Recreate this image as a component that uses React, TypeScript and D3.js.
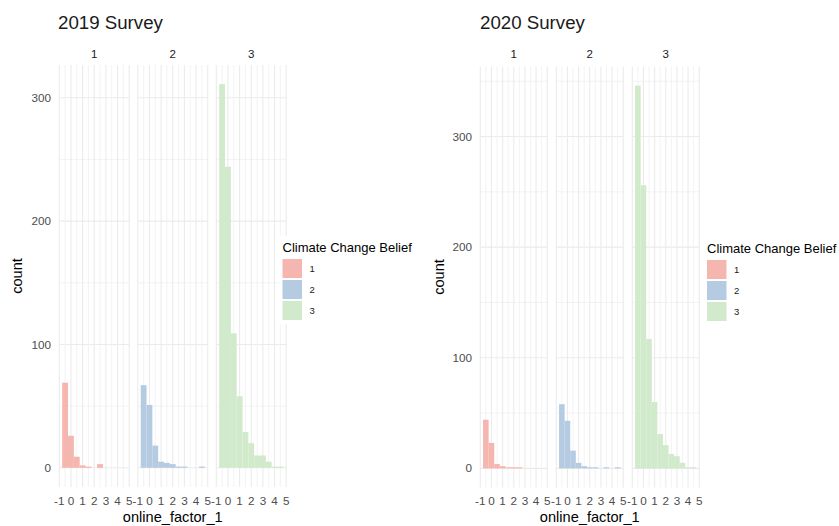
import React from 'react';
import * as d3 from 'd3';

// histogram bins (binwidth 0.5), counts
const binCenters = [-0.5, 0, 0.5, 1, 1.5, 2, 2.5, 3, 3.5, 4, 4.5];
const binWidth = 0.5;
const beliefs = ['1', '2', '3'];

const counts2019Belief1 = [69, 26, 9, 2, 1, 0, 3, 0, 0, 0, 0];
const counts2019Belief2 = [67, 51, 18, 5, 4, 3, 1, 1, 0, 0, 1];
const counts2019Belief3 = [311, 244, 109, 58, 29, 20, 10, 10, 5, 1, 1];

const counts2020Belief1 = [44, 23, 4, 2, 1, 1, 1, 0, 0, 0, 0];
const counts2020Belief2 = [58, 43, 16, 5, 2, 1, 1, 0, 1, 0, 1];
const counts2020Belief3 = [346, 256, 117, 60, 31, 21, 13, 11, 5, 1, 1];

const xTicks = [-1, 0, 1, 2, 3, 4, 5];
const xMinorTicks = [-0.5, 0.5, 1.5, 2.5, 3.5, 4.5];
const yTicks = [0, 100, 200, 300];
const yMinorTicks = [50, 150, 250, 350];

const colors = d3.scaleOrdinal<string, string>().domain(beliefs).range(['#f4b6af', '#b5cbe1', '#d1eacb']);

const FONT = '"Liberation Sans", Arial, Helvetica, sans-serif';
const GRID = '#ebebeb';

type Layout = {
  title: string;
  left: number;
  panelX: number[];
  panelW: number;
  yTop: number;
  yBottom: number;
  yLabelX: number;
  countX: number;
  legendX: number;
  legendTitleY: number;
  keyY: number;
  legendBg: boolean;
};

const Survey = ({ layout, series }: { layout: Layout; series: number[][] }) => {
  const maxCount = d3.max(series, s => d3.max(s)) as number;
  const y = d3.scaleLinear()
    .domain([-0.05 * maxCount, 1.05 * maxCount])
    .range([layout.yBottom, layout.yTop]);
  const lo = binCenters[0] - binWidth / 2;
  const hi = binCenters[binCenters.length - 1] + binWidth / 2;
  const pad = 0.05 * (hi - lo);
  const [d0, d1] = y.domain();
  const midX = (layout.panelX[0] + layout.panelX[2] + layout.panelW) / 2;

  return (
    <g>
      <text x={layout.left} y={28.5} fontSize={18.7} fill="#1a1a1a">{layout.title}</text>

      {beliefs.map((b, i) => {
        const x = d3.scaleLinear()
          .domain([lo - pad, hi + pad])
          .range([layout.panelX[i], layout.panelX[i] + layout.panelW]);
        return (
          <g key={b}>
            {/* grid */}
            {yMinorTicks.filter(t => t > d0 && t < d1).map(t => (
              <line key={'ym' + t} x1={x.range()[0]} x2={x.range()[1]} y1={y(t)} y2={y(t)} stroke={GRID} strokeWidth={0.6} />
            ))}
            {xMinorTicks.map(t => (
              <line key={'xm' + t} x1={x(t)} x2={x(t)} y1={layout.yTop} y2={layout.yBottom} stroke={GRID} strokeWidth={0.6} />
            ))}
            {yTicks.filter(t => t > d0 && t < d1).map(t => (
              <line key={'y' + t} x1={x.range()[0]} x2={x.range()[1]} y1={y(t)} y2={y(t)} stroke={GRID} strokeWidth={1.1} />
            ))}
            {xTicks.map(t => (
              <line key={'x' + t} x1={x(t)} x2={x(t)} y1={layout.yTop} y2={layout.yBottom} stroke={GRID} strokeWidth={1.1} />
            ))}

            {/* bars */}
            {series[i].map((c, j) => c > 0 && (
              <rect key={j}
                x={x(binCenters[j] - binWidth / 2)}
                width={x(binCenters[j] + binWidth / 2) - x(binCenters[j] - binWidth / 2)}
                y={y(c)} height={y(0) - y(c)}
                fill={colors(b)} />
            ))}

            {/* strip */}
            <text x={(x.range()[0] + x.range()[1]) / 2} y={58} fontSize={11.5} fill="#1a1a1a" textAnchor="middle">{b}</text>

            {/* x tick labels */}
            {xTicks.map(t => (
              <text key={'xl' + t} x={x(t)} y={505} fontSize={11.7} fill="#4d4d4d" textAnchor="middle">{t}</text>
            ))}
          </g>
        );
      })}

      {/* y tick labels */}
      {yTicks.map(t => (
        <text key={'yl' + t} x={layout.yLabelX} y={y(t)} dy="0.35em" fontSize={11.7} fill="#4d4d4d" textAnchor="end">{t}</text>
      ))}

      <text x={midX} y={522} fontSize={14.6} fill="#000" textAnchor="middle">online_factor_1</text>
      <text transform={`translate(${layout.countX},${(layout.yTop + layout.yBottom) / 2}) rotate(-90)`}
        fontSize={14.6} fill="#000" textAnchor="middle">count</text>

      {/* legend */}
      {layout.legendBg && <rect x={layout.legendX - 3} y={236} width={170} height={88} fill="#fff" />}
      <text x={layout.legendX} y={layout.legendTitleY} fontSize={13} fill="#000">Climate Change Belief</text>
      {beliefs.map((b, i) => (
        <g key={'lg' + b}>
          <rect x={layout.legendX} y={layout.keyY + i * 21} width={19.5} height={19} fill={colors(b)} />
          <text x={layout.legendX + 27} y={layout.keyY + i * 21 + 9.5} dy="0.35em" fontSize={9.5} fill="#1a1a1a">{b}</text>
        </g>
      ))}
    </g>
  );
};

const layout2019: Layout = {
  title: '2019 Survey', left: 58, panelX: [59, 137.5, 216], panelW: 70.5,
  yTop: 65, yBottom: 487, yLabelX: 51, countX: 22,
  legendX: 282.5, legendTitleY: 251.5, keyY: 259, legendBg: true,
};

const layout2020: Layout = {
  title: '2020 Survey', left: 480, panelX: [480, 556, 632], panelW: 67.5,
  yTop: 66.5, yBottom: 487.5, yLabelX: 472, countX: 443.5,
  legendX: 707, legendTitleY: 252.5, keyY: 260, legendBg: false,
};

export default function App() {
  return (
    <svg width={839} height={526} style={{ position: 'absolute', left: 0, top: 0, background: '#fff' }} fontFamily={FONT}>
      <Survey layout={layout2019} series={[counts2019Belief1, counts2019Belief2, counts2019Belief3]} />
      <Survey layout={layout2020} series={[counts2020Belief1, counts2020Belief2, counts2020Belief3]} />
    </svg>
  );
}
